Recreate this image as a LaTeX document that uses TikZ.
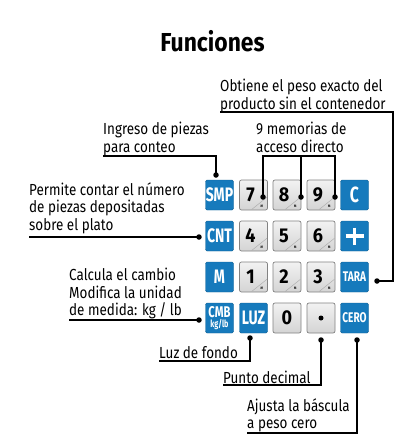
\documentclass[tikz,border=0pt]{standalone}
\usepackage{fontspec}
\setmainfont{Fira Sans}[FakeStretch=0.84]
\newfontfamily\keyfont{Fira Sans}[FakeStretch=0.72]
\newfontfamily\digfont{Fira Sans}[FakeStretch=0.9]
\newfontfamily\titlefont{Fira Sans}[FakeStretch=0.88]
\usetikzlibrary{calc}
\definecolor{keyblue}{RGB}{22,122,188}
\definecolor{keyedge}{RGB}{130,130,130}
\tikzset{
  bkey/.style={rectangle,rounded corners=1.5pt,fill=keyblue,draw=keyblue!80!black,line width=0.4pt,minimum width=28pt,minimum height=30pt,inner sep=0pt,text=white,font=\keyfont\bfseries\fontsize{19.5}{19.5}\selectfont},
  gkey/.style={rectangle,rounded corners=2pt,top color=black!5,bottom color=black!17,draw=keyedge,line width=0.7pt,minimum width=28pt,minimum height=30pt,inner sep=0pt,font=\digfont\bfseries\fontsize{20}{20}\selectfont},
  lbl/.style={anchor=north west,inner sep=0pt,align=left,font=\fontsize{16}{17.5}\selectfont},
  conn/.style={line width=1.3pt,black},
  dotc/.style={circle,fill=black,inner sep=0pt,minimum size=5.5pt},
}
\newcommand{\numkey}[3]{%
  \node[gkey] (#1) at (#2) {};
  \node[inner sep=0pt,font=\digfont\bfseries\fontsize{20}{20}\selectfont] (#1t) at ($(#1.center)+(-3,-0.5)$) {#3};
  \draw[black!35,line width=0.4pt] ($(#1.south east)+(-16,-1)$) -- ($(#1.south east)+(-1,-13)$);
  \node[inner sep=0pt,font=\bfseries\fontsize{3.5}{3.5}\selectfont] (#1m) at ($(#1.south east)+(-6,-4)$) {M};
}
\begin{document}
\begin{tikzpicture}[x=1pt,y=-1pt]
\useasboundingbox (0,0) rectangle (414,445);
\fill[white] (0,0) rectangle (414,445);
\node[font=\titlefont\bfseries\fontsize{26}{26}\selectfont,inner sep=0pt] (title) at (212.5,41) {Funciones};

% row 1
\node[bkey] (smp) at (219.5,195) {SMP};
\numkey{k7}{253.5,195}{7}
\numkey{k8}{287,195}{8}
\numkey{k9}{321,195}{9}
\node[bkey,font=\keyfont\bfseries\fontsize{22}{22}\selectfont] (kc) at (354.5,195) {C};
% row 2
\node[bkey] (cnt) at (219.5,236) {CNT};
\numkey{k4}{253.5,236}{4}
\numkey{k5}{287,236}{5}
\numkey{k6}{321,236}{6}
\node[bkey] (kplus) at (354.5,236) {};
\draw[white,line width=3.8pt] ($(kplus.center)+(-9,0)$) -- ($(kplus.center)+(9,0)$)
  ($(kplus.center)+(0,-8.5)$) -- ($(kplus.center)+(0,8.5)$);
% row 3
\node[bkey] (km) at (219.5,277) {M};
\numkey{k1}{253.5,277}{1}
\numkey{k2}{287,277}{2}
\numkey{k3}{321,277}{3}
\node[bkey,font=\keyfont\bfseries\fontsize{14}{14}\selectfont] (tara) at (354.5,277) {TARA};
% row 4
\node[bkey,align=center,font=\keyfont\bfseries\fontsize{15.5}{11}\selectfont] (cmb) at (219.5,318) {CMB\\[-0.5pt]{\fontsize{10}{10}\selectfont kg/lb}};
\node[bkey] (luz) at (253.5,318) {LUZ};
\node[gkey] (k0) at (287,318) {0};
\node[gkey] (kdot) at (321,318) {};
\node[circle,fill=black,inner sep=0pt,minimum size=5pt] (kdotm) at (kdot.center) {};
\node[bkey,font=\keyfont\bfseries\fontsize{14}{14}\selectfont] (cero) at (354.5,318) {CERO};

% labels
\node[lbl] (lobt) at (220,79) {Obtiene el peso exacto del\\producto sin el contenedor};
\node[lbl] (ling) at (103,122) {Ingreso de piezas\\para conteo};
\node[lbl] (lmem) at (256,122) {9 memorias de\\acceso directo};
\node[lbl] (lper) at (29,182) {Permite contar el número\\de piezas depositadas\\sobre el plato};
\node[lbl] (lcal) at (69,268) {Calcula el cambio\\Modifica la unidad\\de medida: kg / lb};
\node[lbl] (lluz) at (159,346) {Luz de fondo};
\node[lbl] (lpun) at (223,371) {Punto decimal};
\node[lbl] (laju) at (247,398) {Ajusta la báscula\\a peso cero};

% connector points
\coordinate (dtara) at (377,281);
\coordinate (dsmp) at (216,175);
\coordinate (d7) at (263,197);
\coordinate (d8) at (301,197);
\coordinate (d9) at (335,197);
\coordinate (dcnt) at (199,237);
\coordinate (dcmb) at (199,320);
\coordinate (dluz) at (250,338);
\coordinate (dpun) at (321,340);
\coordinate (dcer) at (357,340);

% connectors
\draw[conn] (lobt.south west |- 0,112) -- (393,112) |- (dtara);
\draw[conn] (ling.south west |- 0,156) -| (dsmp);
\draw[conn] (d7) -- (d7 |- 0,156) -- (d9 |- 0,156) -- (d9);
\draw[conn] (d8) -- (d8 |- 0,156);
\draw[conn] (lper.south west |- 0,237) -- (dcnt);
\draw[conn] (lcal.south west |- 0,320) -- (dcmb);
\draw[conn] (lluz.south west |- 0,361) -| (dluz);
\draw[conn] (lpun.south west |- 0,385) -| (dpun);
\draw[conn] (laju.south west |- 0,433) -| (dcer);

\foreach \d in {dtara,dsmp,d7,d8,d9,dcnt,dcmb,dluz,dpun,dcer}
  \node[dotc] at (\d) {};
\end{tikzpicture}
\end{document}
